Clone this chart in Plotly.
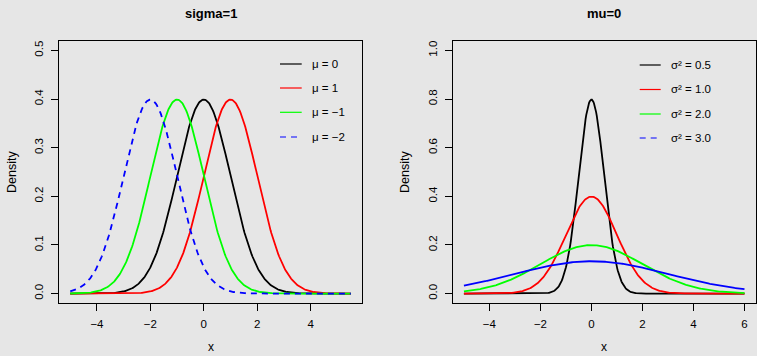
import numpy as np
import plotly.graph_objects as go

# ---- data ----
left_title = "sigma=1"
right_title = "mu=0"
left_mus = [0, 1, -1, -2]
left_sigma = 1.0
left_labels = ["μ = 0", "μ = 1", "μ = −1", "μ = −2"]
left_x_range = (-5.0, 5.5)

right_mu = 0.0
right_sigmas = [0.5, 1.0, 2.0, 3.0]
right_labels = ["σ² = 0.5", "σ² = 1.0", "σ² = 2.0", "σ² = 3.0"]
right_x_range = (-5.0, 6.0)

colors = ["black", "#FF0000", "#00FF00", "#0000FF"]
left_dash = ["solid", "solid", "solid", "6px,5px"]
right_dash = ["solid", "solid", "solid", "solid"]
right_legend_dash = ["solid", "solid", "solid", "6px,5px"]

left_xticks = [-4, -2, 0, 2, 4]
left_yticks = [0.0, 0.1, 0.2, 0.3, 0.4, 0.5]
right_xticks = [-4, -2, 0, 2, 4, 6]
right_yticks = [0.0, 0.2, 0.4, 0.6, 0.8, 1.0]


def dnorm(x, m, s):
    return np.exp(-0.5 * ((x - m) / s) ** 2) / (s * np.sqrt(2 * np.pi))


W, H = 757, 356
BG = "#E6E6E6"
FONT = "Liberation Sans, Arial, Helvetica, sans-serif"
TICK_SIZE = 11.5

fig = go.Figure()

xl = np.linspace(left_x_range[0], left_x_range[1], 400)
for m, c, d in zip(left_mus, colors, left_dash):
    fig.add_trace(go.Scatter(x=xl, y=dnorm(xl, m, left_sigma), mode="lines",
                             line=dict(color=c, width=1.8, dash=d),
                             xaxis="x", yaxis="y", showlegend=False, hoverinfo="skip"))

xr = np.linspace(right_x_range[0], right_x_range[1], 400)
for s, c, d in zip(right_sigmas, colors, right_dash):
    fig.add_trace(go.Scatter(x=xr, y=dnorm(xr, right_mu, s), mode="lines",
                             line=dict(color=c, width=1.8, dash=d),
                             xaxis="x2", yaxis="y2", showlegend=False, hoverinfo="skip"))


def pad(lo, hi):
    p = (hi - lo) * 0.04
    return [lo - p, hi + p]


ydom = [(H - 303.3) / H, (H - 40.7) / H]
axis_common = dict(showline=True, mirror=True, linecolor="black", linewidth=1,
                   ticks="outside", ticklen=7, tickwidth=1, tickcolor="black",
                   showgrid=False, zeroline=False,
                   tickfont=dict(family=FONT, size=TICK_SIZE, color="black"))

fig.update_layout(
    width=W, height=H, margin=dict(l=0, r=0, t=0, b=0),
    paper_bgcolor=BG, plot_bgcolor=BG, showlegend=False,
    xaxis=dict(domain=[59 / W, 362 / W], range=pad(*left_x_range), tickvals=left_xticks,
               anchor="y", ticklabelstandoff=3, **axis_common),
    yaxis=dict(domain=ydom, range=pad(0, 0.5), tickvals=left_yticks,
               ticktext=[f"{v:.1f}" for v in left_yticks], tickangle=-90,
               anchor="x", ticklabelstandoff=3, **axis_common),
    xaxis2=dict(domain=[452.7 / W, 755.7 / W], range=pad(*right_x_range), tickvals=right_xticks,
                anchor="y2", ticklabelstandoff=3, **axis_common),
    yaxis2=dict(domain=ydom, range=pad(0, 1.0), tickvals=right_yticks,
                ticktext=[f"{v:.1f}" for v in right_yticks], tickangle=-90,
                anchor="x2", ticklabelstandoff=3, **axis_common),
)

ann = []
shapes = []
# titles
for t, cx in [(left_title, 210.5), (right_title, 604)]:
    ann.append(dict(text=f"<b>{t}</b>", x=cx / W, y=1 - 14 / H, xref="paper", yref="paper",
                    xanchor="center", yanchor="middle",
                    showarrow=False, font=dict(family=FONT, size=13, color="black")))
# axis titles
for cx in [210.5, 604]:
    ann.append(dict(text="x", x=cx / W, y=1 - 346.5 / H, xref="paper", yref="paper",
                    xanchor="center", yanchor="middle", borderpad=0,
                    showarrow=False, font=dict(family=FONT, size=12, color="black")))
for cx in [12, 405]:
    ann.append(dict(text="Density", x=cx / W, y=1 - 172 / H, xref="paper", yref="paper",
                    xanchor="center", yanchor="middle",
                    textangle=-90, showarrow=False, font=dict(family=FONT, size=12.5, color="black")))

# legends
def add_legend(labels, dashes, x0, x1, xt, ys):
    for lab, c, d, yy in zip(labels, colors, dashes, ys):
        shapes.append(dict(type="line", xref="paper", yref="paper",
                           x0=x0 / W, x1=x1 / W, y0=1 - yy / H, y1=1 - yy / H,
                           line=dict(color=c, width=1.2, dash=d)))
        ann.append(dict(text=lab, x=xt / W, y=1 - yy / H, xref="paper", yref="paper",
                        xanchor="left", yanchor="middle", showarrow=False,
                        font=dict(family=FONT, size=TICK_SIZE, color="black")))


add_legend(left_labels, left_dash, 280, 301.7, 309.5, [64, 88, 112.3, 137])
add_legend(right_labels, right_legend_dash, 639.7, 660.7, 668.5, [65, 89.5, 114, 138])

fig.update_layout(annotations=ann, shapes=shapes)
fig.write_html("out.html", config={"displayModeBar": False},
               post_script="document.body.style.margin='0';document.body.style.padding='0';"
                           "document.body.style.overflow='hidden';"
                           "document.documentElement.style.overflow='hidden';")
